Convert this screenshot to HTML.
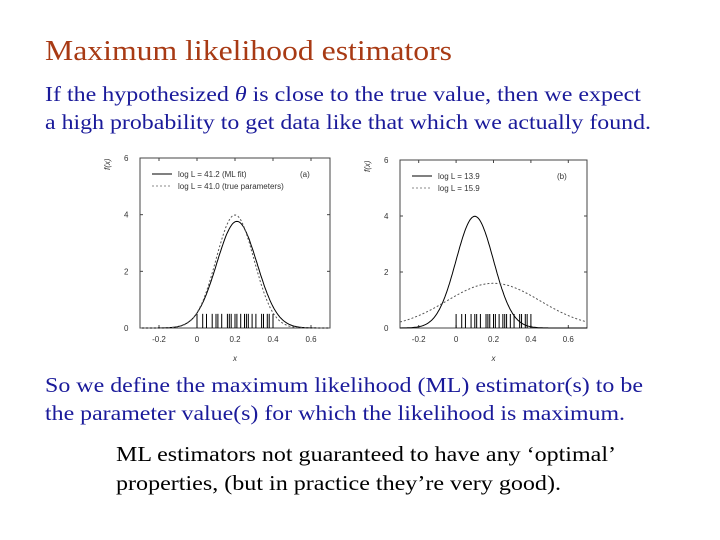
<!DOCTYPE html>
<html><head><meta charset="utf-8"><style>
html,body{margin:0;padding:0;background:#fff;}
svg{display:block;}
.t{font-family:"Liberation Serif",serif;}
.a{font-family:"Liberation Sans",sans-serif;font-size:8px;fill:#333;}
</style></head><body>
<svg id="s" width="720" height="540" xmlns="http://www.w3.org/2000/svg">
<text class="t" x="45" y="60" font-size="28" fill="#A83A14" textLength="407" lengthAdjust="spacingAndGlyphs">Maximum likelihood estimators</text>
<text class="t" x="45" y="101" font-size="21" fill="#1a1a9a" textLength="596" lengthAdjust="spacingAndGlyphs">If the hypothesized <tspan font-style="italic">θ</tspan> is close to the true value, then we expect</text>
<text class="t" x="45" y="129" font-size="21" fill="#1a1a9a" textLength="606" lengthAdjust="spacingAndGlyphs">a high probability to get data like that which we actually found.</text>
<text class="t" x="45" y="392" font-size="21" fill="#1a1a9a" textLength="598" lengthAdjust="spacingAndGlyphs">So we define the maximum likelihood (ML) estimator(s) to be</text>
<text class="t" x="45" y="420" font-size="21" fill="#1a1a9a" textLength="580" lengthAdjust="spacingAndGlyphs">the parameter value(s) for which the likelihood is maximum.</text>
<text class="t" x="116" y="461" font-size="21" fill="#000" textLength="500" lengthAdjust="spacingAndGlyphs">ML estimators not guaranteed to have any ‘optimal’</text>
<text class="t" x="116" y="490" font-size="21" fill="#000" textLength="445" lengthAdjust="spacingAndGlyphs">properties, (but in practice they’re very good).</text>
<g id="charts"></g>
</svg>
<script>
const xTicks=[-0.2,0,0.2,0.4,0.6];
const xTickLabels=["-0.2","0","0.2","0.4","0.6"];
const yTicks=[0,2,4,6];
const dataPoints=[0.0,0.03,0.05,0.08,0.1,0.11,0.13,0.16,0.17,0.18,0.2,0.21,0.23,0.25,0.26,0.27,0.29,0.31,0.34,0.35,0.37,0.38,0.4];
const leftMeans=[0.21,0.2];
const leftSigmas=[0.106,0.1];
const leftLegend=["log L = 41.2 (ML fit)","log L = 41.0 (true parameters)"];
const rightMeans=[0.1,0.2];
const rightSigmas=[0.1,0.25];
const rightLegend=["log L = 13.9","log L = 15.9"];
const NS="http://www.w3.org/2000/svg";
const root=document.getElementById('charts');
function mk(t,at,p){const e=document.createElementNS(NS,t);for(const k in at)e.setAttribute(k,at[k]);(p||root).appendChild(e);return e;}
function gauss(x,m,s){return Math.exp(-0.5*((x-m)/s)**2)/(s*Math.sqrt(2*Math.PI));}
function chart(L,R,T,B,means,sigmas,legend,tag,name){
  const g=mk('g',{});
  
  
  const X=v=>L+(v+0.3)/1.0*(R-L), Y=v=>B-v/6*(B-T);
  const fr=mk('rect',{x:L,y:T,width:R-L,height:B-T,fill:'none',stroke:'#444','stroke-width':1},g);
  
  
  xTicks.forEach((v,i)=>{
    mk('line',{x1:X(v),x2:X(v),y1:B,y2:B-3,stroke:'#444'},g);
    mk('line',{x1:X(v),x2:X(v),y1:T,y2:T+3,stroke:'#444'},g);
    const t=mk('text',{x:X(v),y:B+14,'text-anchor':'middle',class:'a'},g);t.textContent=xTickLabels[i];
    
    
  });
  yTicks.forEach(v=>{
    mk('line',{x1:L,x2:L+3,y1:Y(v),y2:Y(v),stroke:'#444'},g);
    mk('line',{x1:R,x2:R-3,y1:Y(v),y2:Y(v),stroke:'#444'},g);
    const t=mk('text',{x:L-16,y:Y(v)+3,class:'a'},g);t.textContent=v;
    
    
  });
  const xl=mk('text',{x:(L+R)/2,y:B+33,'text-anchor':'middle',class:'a','font-style':'italic'},g);xl.textContent='x';
  
  
  const yl=mk('text',{x:L-30,y:T+12,class:'a','font-style':'italic',transform:`rotate(-90 ${L-30} ${T+12})`},g);yl.textContent='f(x)';
  
  
  dataPoints.forEach(v=>{
    const l=mk('line',{x1:X(v),x2:X(v),y1:B,y2:Y(0.5),stroke:'#000','stroke-width':1},g);
    
    
  });
  means.forEach((m,i)=>{
    let d='';
    for(let k=0;k<=200;k++){const x=-0.3+k/200;const y=gauss(x,m,sigmas[i]);d+=(k?'L':'M')+X(x).toFixed(1)+' '+Y(y).toFixed(1);}
    const p=mk('path',{d,fill:'none',stroke:i?'#555':'#000','stroke-width':1,'stroke-dasharray':i?'2 2':'none'},g);
    
    
    mk('line',{x1:L+12,x2:L+32,y1:T+16+i*12,y2:T+16+i*12,stroke:i?'#888':'#000','stroke-dasharray':i?'2 2':'none'},g);
    const lt=mk('text',{x:L+38,y:T+19+i*12,class:'a'},g);lt.textContent=legend[i];
    
    
  });
  const tg=mk('text',{x:R-30,y:T+19,class:'a'},g);tg.textContent=tag;
  
  
}
chart(140,330,158,328,leftMeans,leftSigmas,leftLegend,'(a)','chart-a');
chart(400,587,160,328,rightMeans,rightSigmas,rightLegend,'(b)','chart-b');
</script>
</body></html>
